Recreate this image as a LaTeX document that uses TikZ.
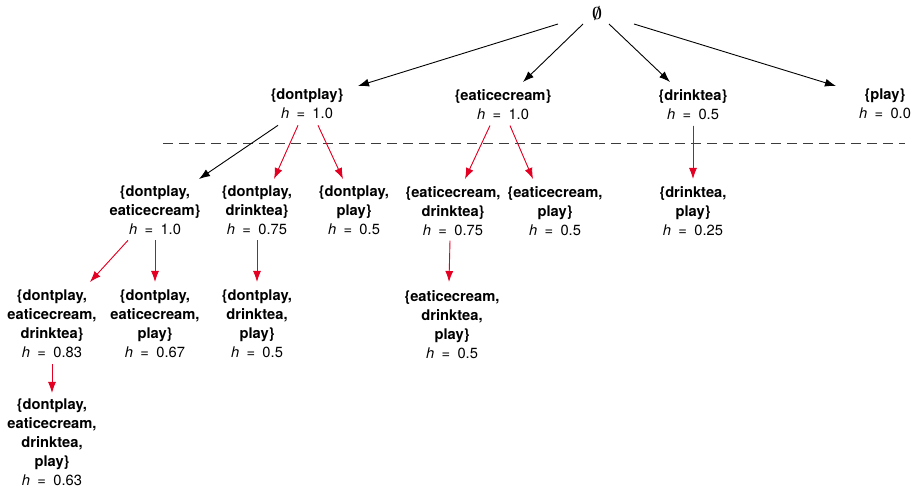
\documentclass[tikz,border=0pt]{standalone}
\usepackage{fontspec}
\setmainfont{TeX Gyre Heros}
\usetikzlibrary{arrows.meta,calc}
\definecolor{arrred}{RGB}{228,0,34}
\definecolor{dashgray}{RGB}{60,60,60}
\newcommand{\lb}{\textbraceleft}
\newcommand{\rb}{\textbraceright}
\newcommand{\hval}[1]{\textit{h}\hspace{0.5em}=\hspace{0.5em}#1}
\begin{document}
\begin{tikzpicture}[x=1pt,y=-1pt,
  setnode/.style={align=center,inner sep=0pt,anchor=north,font=\fontsize{14.7}{19}\selectfont},
  rootnode/.style={inner sep=0pt,font=\fontsize{17}{18}\selectfont\boldmath},
  blackarr/.style={draw=black,line width=0.9pt,-{Latex[length=11pt,width=8pt]}},
  redarr/.style={draw=arrred,fill=arrred,line width=0.9pt,-{Latex[length=11pt,width=8pt]}},
  sepline/.style={draw=dashgray,line width=0.9pt,dash pattern=on 10pt off 6pt}]
\useasboundingbox (0,0) rectangle (914,489);
% root
\node[rootnode] (root) at (597,14) {$\emptyset$};
% level 1
\node[setnode] (dp) at (307,89) {\textbf{\lb dontplay\rb}\\\hval{1.0}};
\node[setnode] (ei) at (503,89) {\textbf{\lb eaticecream\rb}\\\hval{1.0}};
\node[setnode] (dt) at (693,89) {\textbf{\lb drinktea\rb}\\\hval{0.5}};
\node[setnode] (pl) at (885,89) {\textbf{\lb play\rb}\\\hval{0.0}};
% separator
\coordinate (sepL) at (163,143);
\coordinate (sepR) at (905,143);
\draw[sepline] (sepL) -- (sepR);
% level 2
\node[setnode] (dpei) at (155,186) {\textbf{\lb dontplay,}\\\textbf{eaticecream\rb}\\\hval{1.0}};
\node[setnode] (dpdt) at (257,186) {\textbf{\lb dontplay,}\\\textbf{drinktea\rb}\\\hval{0.75}};
\node[setnode] (dpp) at (354,186) {\textbf{\lb dontplay,}\\\textbf{play\rb}\\\hval{0.5}};
\node[setnode] (eidt) at (453,186) {\textbf{\lb eaticecream,}\\\textbf{drinktea\rb}\\\hval{0.75}};
\node[setnode] (eip) at (555,186) {\textbf{\lb eaticecream,}\\\textbf{play\rb}\\\hval{0.5}};
\node[setnode] (dtp) at (693,186) {\textbf{\lb drinktea,}\\\textbf{play\rb}\\\hval{0.25}};
% level 3
\node[setnode] (dpeidt) at (52,290) {\textbf{\lb dontplay,}\\\textbf{eaticecream,}\\\textbf{drinktea\rb}\\\hval{0.83}};
\node[setnode] (dpeip) at (155,290) {\textbf{\lb dontplay,}\\\textbf{eaticecream,}\\\textbf{play\rb}\\\hval{0.67}};
\node[setnode] (dpdtp) at (257,290) {\textbf{\lb dontplay,}\\\textbf{drinktea,}\\\textbf{play\rb}\\\hval{0.5}};
\node[setnode] (eidtp) at (452,290) {\textbf{\lb eaticecream,}\\\textbf{drinktea,}\\\textbf{play\rb}\\\hval{0.5}};
% level 4
\node[setnode] (all) at (52,399) {\textbf{\lb dontplay,}\\\textbf{eaticecream,}\\\textbf{drinktea,}\\\textbf{play\rb}\\\hval{0.63}};
% root arrows
\draw[blackarr] ($(root.center)+(-39,10)$) -- ($(dp.north)+(51,-3)$);
\draw[blackarr] ($(root.center)+(-14,10)$) -- ($(ei.north)+(20,-7)$);
\draw[blackarr] ($(root.center)+(12,10)$) -- ($(dt.north)+(-23,-7)$);
\draw[blackarr] ($(root.center)+(37,10)$) -- ($(pl.north)+(-49,-3)$);
% level 1 -> 2
\draw[blackarr] ($(dp.south)+(-29,6)$) -- ($(dpei.north)+(44,-7)$);
\draw[redarr] ($(dp.south)+(-9,6)$) -- ($(dpdt.north)+(17,-7)$);
\draw[redarr] ($(dp.south)+(11,6)$) -- ($(dpp.north)+(-11,-7)$);
\draw[redarr] ($(ei.south)+(-13,6)$) -- ($(eidt.north)+(12,-7)$);
\draw[redarr] ($(ei.south)+(7,6)$) -- ($(eip.north)+(-22,-7)$);
\draw[redarr] ($(dt.south)+(0,6)$) -- ($(dtp.north)+(0,-7)$);
% level 2 -> 3
\draw[redarr] ($(dpei.south)+(-27,5)$) -- ($(dpeidt.north)+(38,-8)$);
\draw[redarr] ($(dpei.south)+(0,5)$) -- ($(dpeip.north)+(0,-8)$);
\draw[redarr] ($(dpdt.south)+(0,5)$) -- ($(dpdtp.north)+(0,-8)$);
\draw[redarr] ($(eidt.south)+(-3,5)$) -- ($(eidtp.north)+(-3,-8)$);
% level 3 -> 4
\draw[redarr] ($(dpeidt.south)+(0,6)$) -- ($(all.north)+(0,-6)$);
\end{tikzpicture}
\end{document}
